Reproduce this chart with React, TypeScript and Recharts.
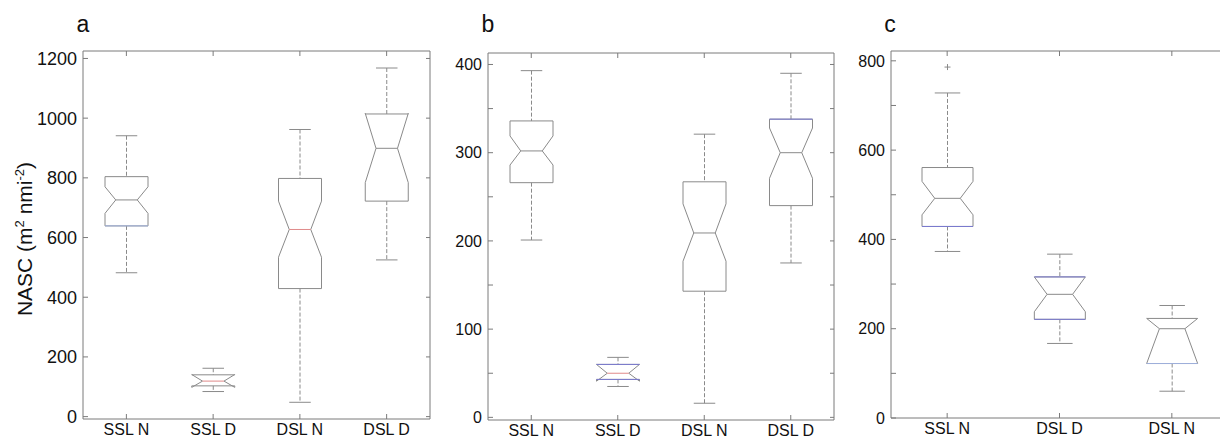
import React from "react";
import { ComposedChart, Bar, XAxis, YAxis } from "recharts";

// ---- panel a ----
const catsA = ["SSL N", "SSL D", "DSL N", "DSL D"];
const lowA = [482, 84, 48, 525];
const q1A = [639, 103, 429, 722];
const notchLoA = [681, 98, 534, 784];
const medA = [726, 119, 627, 899];
const notchHiA = [770, 141, 722, 1016];
const q3A = [804, 140, 798, 1014];
const highA = [941, 162, 962, 1168];
const outA: number[][] = [[], [], [], []];
const ticksA = [0, 200, 400, 600, 800, 1000, 1200];
const labelsA = [0, 200, 400, 600, 800, 1000, 1200];

// ---- panel b ----
const catsB = ["SSL N", "SSL D", "DSL N", "DSL D"];
const lowB = [201, 35, 16, 175];
const q1B = [266, 43, 143, 240];
const notchLoB = [286, 41, 177, 271];
const medB = [302, 50, 209, 300];
const notchHiB = [319, 60, 242, 328];
const q3B = [336, 60, 267, 338];
const highB = [393, 68, 321, 390];
const outB: number[][] = [[], [], [], []];
const ticksB = [0, 50, 100, 150, 200, 250, 300, 350, 400];
const labelsB = [0, 100, 200, 300, 400];

// ---- panel c ----
const catsC = ["SSL N", "DSL D", "DSL N"];
const lowC = [373, 167, 60];
const q1C = [429, 221, 122];
const notchLoC = [455, 238, 122];
const medC = [492, 277, 200];
const notchHiC = [530, 316, 223];
const q3C = [561, 316, 223];
const highC = [728, 367, 252];
const outC: number[][] = [[786], [], []];
const ticksC = [0, 100, 200, 300, 400, 500, 600, 700, 800];
const labelsC = [0, 200, 400, 600, 800];

const FONT = '"Liberation Sans", Arial, Helvetica, sans-serif';
const FRAME = "#7b7b7b";
const LINE = "#8a8a8a";
const RED = "#e08a8a";
const BLUE = "#7a7ad0";
const PALE = "#9fb0dc";

// a few of the lines in the scan kept a tint of the original colours
const accentsA = [{ q1: PALE }, { med: RED }, { med: RED }, {}];
const accentsB = [{}, { q1: BLUE, q3: BLUE, med: RED }, {}, { q3: BLUE }];
const accentsC = [{ q1: BLUE }, { q1: BLUE, q3: BLUE }, { q1: PALE }];

function buildRows(cats: string[], low: number[], q1: number[], nlo: number[], med: number[],
  nhi: number[], q3: number[], high: number[], out: number[][]) {
  return cats.map((name, i) => ({
    name,
    low: low[i], q1: q1[i], nlo: nlo[i], med: med[i], nhi: nhi[i], q3: q3[i], high: high[i],
    out: out[i],
    range: [Math.min(low[i], ...out[i]), Math.max(high[i], ...out[i])],
  }));
}

// eslint-disable-next-line @typescript-eslint/no-explicit-any
function BoxShape(props: any) {
  const { x, y, width, height, payload, accent } = props;
  const top = Math.min(y, y + height);
  const bot = Math.max(y, y + height);
  const [lo, hi] = payload.range;
  const ppu = (bot - top) / (hi - lo);
  const toY = (v: number) => bot - (v - lo) * ppu;
  const xl = x, xr = x + width, cx = x + width / 2;
  const inset = width / 4;
  const cap = width / 4;
  const yq1 = toY(payload.q1), yq3 = toY(payload.q3), ym = toY(payload.med);
  const ynl = toY(payload.nlo), ynh = toY(payload.nhi);
  const pts = [
    [xl, yq3], [xl, ynh], [xl + inset, ym], [xl, ynl], [xl, yq1],
    [xr, yq1], [xr, ynl], [xr - inset, ym], [xr, ynh], [xr, yq3],
  ].map((p) => p.join(",")).join(" ");
  const a = accent || {};
  return (
    <g fill="none" strokeWidth={1}>
      <line x1={cx} x2={cx} y1={toY(payload.high)} y2={yq3} stroke={LINE} strokeDasharray="4 2" />
      <line x1={cx} x2={cx} y1={yq1} y2={toY(payload.low)} stroke={LINE} strokeDasharray="4 2" />
      <line x1={cx - cap} x2={cx + cap} y1={toY(payload.high)} y2={toY(payload.high)} stroke={LINE} />
      <line x1={cx - cap} x2={cx + cap} y1={toY(payload.low)} y2={toY(payload.low)} stroke={LINE} />
      <polygon points={pts} stroke={LINE} />
      {a.q1 && <line x1={xl} x2={xr} y1={yq1} y2={yq1} stroke={a.q1} />}
      {a.q3 && <line x1={xl} x2={xr} y1={yq3} y2={yq3} stroke={a.q3} />}
      <line x1={xl + inset} x2={xr - inset} y1={ym} y2={ym} stroke={a.med || LINE} />
      {payload.out.map((v: number, i: number) => (
        <g key={i} stroke={LINE}>
          <line x1={cx - 3} x2={cx + 3} y1={toY(v)} y2={toY(v)} />
          <line x1={cx} x2={cx} y1={toY(v) - 3} y2={toY(v) + 3} />
        </g>
      ))}
    </g>
  );
}

// eslint-disable-next-line @typescript-eslint/no-explicit-any
function LeftTick({ x, y, payload, labels, fs }: any) {
  const show = labels.includes(payload.value);
  return (
    <g>
      <line x1={x} x2={x + 5} y1={y} y2={y} stroke={FRAME} />
      {show && (
        <text x={x - 6} y={y} dy={fs * 0.36} textAnchor="end" fontSize={fs} fontFamily={FONT} fill="#111">
          {payload.value}
        </text>
      )}
    </g>
  );
}
// eslint-disable-next-line @typescript-eslint/no-explicit-any
function RightTick({ x, y }: any) {
  return <line x1={x - 4} x2={x} y1={y} y2={y} stroke={FRAME} />;
}
// eslint-disable-next-line @typescript-eslint/no-explicit-any
function BottomTick({ x, y, payload }: any) {
  return (
    <g>
      <line x1={x} x2={x} y1={y - 5} y2={y} stroke={FRAME} />
      <text x={x} y={y + 16} textAnchor="middle" fontSize={16} fontFamily={FONT} fill="#111">
        {payload.value}
      </text>
    </g>
  );
}
// eslint-disable-next-line @typescript-eslint/no-explicit-any
function TopTick({ x, y }: any) {
  return <line x1={x} x2={x} y1={y} y2={y + 5} stroke={FRAME} />;
}

type PanelProps = {
  rows: ReturnType<typeof buildRows>;
  left: number; width: number;
  plot: { l: number; r: number; t: number; b: number };
  domain: [number, number];
  ticks: number[]; labels: number[];
  fs: number; barSize: number;
  accents: Record<string, string>[];
};

function Panel({ rows, left, width, plot, domain, ticks, labels, fs, barSize, accents }: PanelProps) {
  return (
    <div style={{ position: "absolute", left, top: 0, width, height: 440 }}>
      <ComposedChart width={width} height={440} data={rows}
        margin={{ top: plot.t - 1, right: width - plot.r - 1, bottom: 0, left: 0 }}>
        <XAxis xAxisId="b" dataKey="name" type="category" height={440 - plot.b} interval={0}
          tickSize={0} tickMargin={0} tickLine={false} axisLine={{ stroke: FRAME }} tick={<BottomTick />} />
        <XAxis xAxisId="t" dataKey="name" type="category" orientation="top" height={1} interval={0}
          tickSize={0} tickMargin={0} tickLine={false} axisLine={{ stroke: FRAME }} tick={<TopTick />} />
        <YAxis yAxisId="l" type="number" domain={domain} ticks={ticks} interval={0} allowDataOverflow
          width={plot.l} tickSize={0} tickMargin={0} tickLine={false} axisLine={{ stroke: FRAME }}
          tick={<LeftTick labels={labels} fs={fs} />} />
        <YAxis yAxisId="r" type="number" orientation="right" domain={domain} ticks={ticks} interval={0}
          allowDataOverflow width={1} tickSize={0} tickMargin={0} tickLine={false}
          axisLine={{ stroke: FRAME }} tick={<RightTick />} />
        <Bar xAxisId="b" yAxisId="l" dataKey="range" barSize={barSize} isAnimationActive={false}
          // eslint-disable-next-line @typescript-eslint/no-explicit-any
          shape={(p: any) => <BoxShape {...p} accent={accents[p.index]} />} />
      </ComposedChart>
    </div>
  );
}

export default function App() {
  const rowsA = buildRows(catsA, lowA, q1A, notchLoA, medA, notchHiA, q3A, highA, outA);
  const rowsB = buildRows(catsB, lowB, q1B, notchLoB, medB, notchHiB, q3B, highB, outB);
  const rowsC = buildRows(catsC, lowC, q1C, notchLoC, medC, notchHiC, q3C, highC, outC);

  return (
    <div style={{ position: "absolute", left: 0, top: 0, width: 1220, height: 440, overflow: "hidden", background: "#fff" }}>
      <Panel rows={rowsA} left={0} width={440} plot={{ l: 83, r: 430, t: 51, b: 419 }}
        domain={[-8, 1225]} ticks={ticksA} labels={labelsA} fs={18} barSize={43} accents={accentsA} />
      <Panel rows={rowsB} left={440} width={400} plot={{ l: 48, r: 394, t: 53, b: 420 }}
        domain={[-3, 413]} ticks={ticksB} labels={labelsB} fs={16} barSize={43} accents={accentsB} />
      <Panel rows={rowsC} left={840} width={400} plot={{ l: 51, r: 388, t: 51, b: 418 }}
        domain={[0, 822]} ticks={ticksC} labels={labelsC} fs={16} barSize={51} accents={accentsC} />

      <svg width={1220} height={440} style={{ position: "absolute", left: 0, top: 0, pointerEvents: "none" }}
        fontFamily={FONT} fill="#111">
        <text x={83} y={32} fontSize={23} textAnchor="middle">a</text>
        <text x={488} y={32} fontSize={23} textAnchor="middle">b</text>
        <text x={890} y={32} fontSize={23} textAnchor="middle">c</text>
        <text transform="translate(32,239) rotate(-90)" fontSize={21} textAnchor="middle">
          NASC (m<tspan dy={-8} fontSize={13}>2</tspan>
          <tspan dy={8}> nmi</tspan>
          <tspan dy={-8} fontSize={13}>-2</tspan>
          <tspan dy={8}>)</tspan>
        </text>
      </svg>
    </div>
  );
}
